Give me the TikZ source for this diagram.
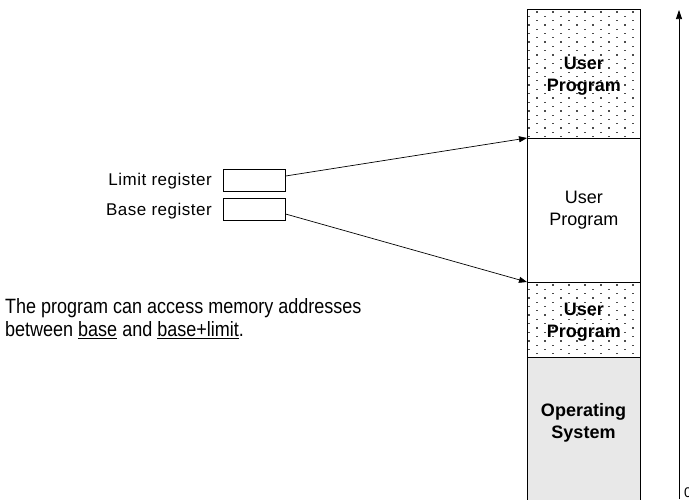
\documentclass[tikz,border=0pt]{standalone}
\usepackage{fontspec}
\setmainfont{Liberation Sans}
\usetikzlibrary{arrows.meta}
\begin{document}
\begin{tikzpicture}[x=1pt,y=-1pt,
  seg/.style={draw=black,line width=0.8pt,minimum width=113pt,inner sep=0pt,anchor=north west},
  segtext/.style={font=\fontsize{18}{22}\selectfont,align=center,inner sep=0pt},
  segbold/.style={segtext,font=\bfseries\fontsize{18}{22}\selectfont},
  reg/.style={draw=black,line width=0.6pt,minimum width=62pt,minimum height=22pt,inner sep=0pt,anchor=north west},
  reglabel/.style={font=\fontsize{17}{20}\selectfont\addfontfeature{LetterSpace=3},anchor=base east,inner sep=0pt},
  conn/.style={line width=0.7pt,-{Triangle[length=8pt,width=6pt]}},
  maintext/.style={font=\fontsize{18}{23}\selectfont,anchor=base west,inner sep=0pt},
  dotc/.style={fill=black!70}]
\useasboundingbox (0,0) rectangle (689,499);
% grey OS region
\fill[black!9] (527,357) rectangle (640,510);
% dot patterns
\begin{scope}
\clip (527,9) rectangle (640,138);
\foreach \r in {0,...,30}{
  \pgfmathsetmacro{\yy}{12+4.3*\r}
  \pgfmathsetmacro{\xo}{mod(\r,2)==0 ? 537 : 529}
  \foreach \c in {0,...,7}{
    \fill[dotc] ({\xo+16*\c-0.65},{\yy-0.65}) rectangle ++(1.3,1.3);
  }
}
\end{scope}
\begin{scope}
\clip (527,282) rectangle (640,357);
\foreach \r in {0,...,17}{
  \pgfmathsetmacro{\yy}{285+4.3*\r}
  \pgfmathsetmacro{\xo}{mod(\r,2)==0 ? 537 : 529}
  \foreach \c in {0,...,7}{
    \fill[dotc] ({\xo+16*\c-0.65},{\yy-0.65}) rectangle ++(1.3,1.3);
  }
}
\end{scope}
% memory segments
\node[seg,minimum height=129pt] (seg1) at (527,9) {};
\node[seg,minimum height=144pt] (seg2) at (527,138) {};
\node[seg,minimum height=75pt] (seg3) at (527,282) {};
\draw[line width=0.8pt] (527,357) -- (527,505) (640,357) -- (640,505);
\node[segbold] (t1) at ([yshift=-2pt]seg1.center) {User\\Program};
\node[segtext] (t2) at (seg2.center) {User\\Program};
\node[segbold] (t3) at ([yshift=-2pt]seg3.center) {User\\Program};
\node[segbold] (t4) at (583.5,423) {Operating\\System};
% address axis
\coordinate (axb) at (679,499);
\coordinate (axt) at (679,10);
\draw[line width=0.7pt,-{Triangle[length=9pt,width=6pt]}] (axb) -- (axt);
\node[font=\fontsize{14}{16}\selectfont,anchor=base west,inner sep=0pt] (zero) at (684,497) {0};
% registers
\node[reg] (limit) at (223,169) {};
\node[reg] (base) at (223,198) {};
\node[reglabel] (limitlbl) at (212,185) {Limit register};
\node[reglabel] (baselbl) at (212,215) {Base register};
\draw[conn] (limit.east |- 0,176) -- (seg2.north west);
\draw[conn] (base.east |- 0,214) -- (seg3.north west);
% text
\node[maintext] (l1) at (5,313) {\scalebox{1}[1.15]{The program can access memory addresses}};
\node[maintext] (l2) at (5,336) {\scalebox{1}[1.15]{between \underline{base} and \underline{base+limit}.}};
\end{tikzpicture}
\end{document}
